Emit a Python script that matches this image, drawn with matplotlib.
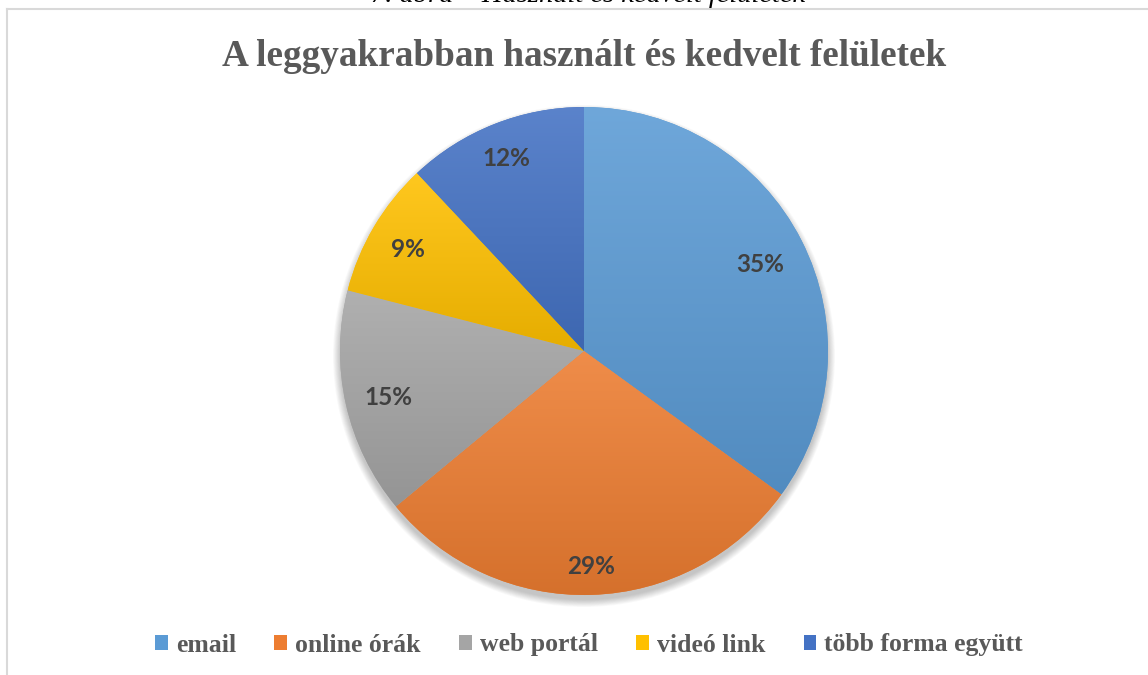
import numpy as np
import matplotlib
matplotlib.use('Agg')
import matplotlib.pyplot as plt
from matplotlib.patches import Patch, Circle
from matplotlib.lines import Line2D
from matplotlib.colors import to_rgb
from matplotlib.font_manager import FontProperties

categories = ['email', 'online órák', 'web portál', 'videó link', 'több forma együtt']
values = [35, 29, 15, 9, 12]
colors = ['#5B9BD5', '#ED7D31', '#A5A5A5', '#FFC000', '#4472C4']
title = 'A leggyakrabban használt és kedvelt felületek'
caption = '7. ábra – Használt és kedvelt felületek'

W, H = 1148, 675
fig = plt.figure(figsize=(W / 100, H / 100), dpi=100)
ax = fig.add_axes([0, 0, 1, 1])
cx, cy, R = 584, H - 351, 244

# soft shadow below pie
for i in range(10):
    ax.add_patch(Circle((cx, cy - 5), R + 7 - i * 0.8, color='k', alpha=0.025, lw=0, zorder=0))

wedges, texts = ax.pie(values, startangle=90, counterclock=False, center=(cx, cy),
                       radius=R, colors=colors, wedgeprops=dict(linewidth=0))

t = np.linspace(0, 1, 256)[:, None, None]
for w, c in zip(wedges, colors):
    base = np.array(to_rgb(c))
    top = base + (1 - base) * 0.12
    bot = base * 0.9
    img = top[None, None, :] * (1 - t) + bot[None, None, :] * t
    bb = w.get_path().get_extents()
    im = ax.imshow(img, extent=(bb.x0, bb.x1, bb.y0, bb.y1), origin='upper',
                   aspect='auto', interpolation='bilinear', zorder=1.5)
    im.set_clip_path(w)

label_dist = [0.81, 0.87, 0.82, 0.84, 0.86]
for w, v, d in zip(wedges, values, label_dist):
    th = np.deg2rad((w.theta1 + w.theta2) / 2)
    ax.text(cx + d * R * np.cos(th), cy + d * R * np.sin(th) - 3, f'{v}%',
            ha='center', va='center', fontsize=17.5, fontweight='bold',
            family='Lato', color='#404040', zorder=3)

ax.set_xlim(0, W)
ax.set_ylim(0, H)
ax.set_aspect('equal')
ax.axis('off')

fig.text(584 / W, 1 - 57 / H, title, ha='center', va='center',
         family='Liberation Serif', fontweight='bold', fontsize=26.7, color='#595959')
fig.text(588 / W, 1 - 2 / H, caption, ha='center', va='baseline',
         family='Liberation Serif', style='italic', fontsize=20.5, color='black')

fig.add_artist(Line2D([7 / W, 7 / W], [0, 1 - 9 / H], transform=fig.transFigure,
                      color='#D9D9D9', lw=1.5))
fig.add_artist(Line2D([7 / W, 1], [1 - 9 / H, 1 - 9 / H], transform=fig.transFigure,
                      color='#D9D9D9', lw=1.5))

handles = [Patch(facecolor=c, edgecolor='none') for c in colors]
fig.legend(handles, categories, loc='center', bbox_to_anchor=(589 / W, 1 - 645 / H),
           ncol=5, frameon=False,
           prop=FontProperties(family='Liberation Serif', weight='bold', size=18.5),
           labelcolor='#595959', handlelength=0.5, handleheight=0.55,
           handletextpad=0.3, columnspacing=1.5)

fig.savefig('out.png', dpi=100)
